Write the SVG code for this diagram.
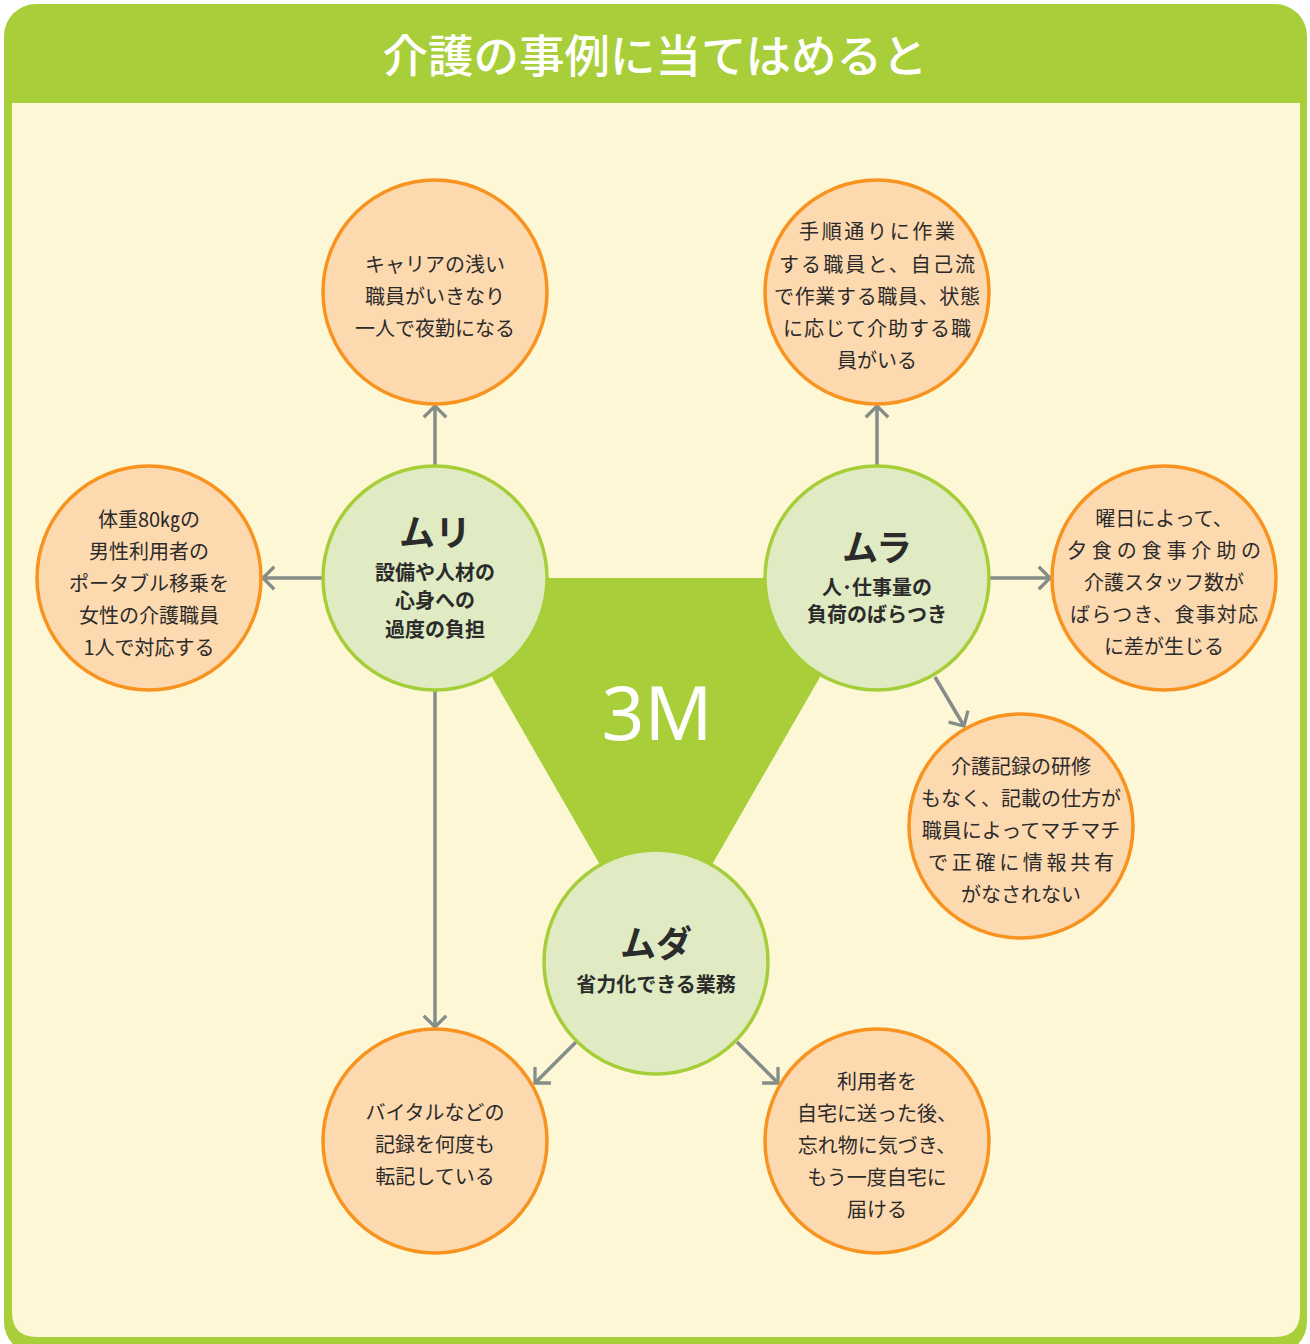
<svg xmlns="http://www.w3.org/2000/svg" width="1310" height="1344" viewBox="0 0 1310 1344">
<defs>
<style>
.t{font-family:"Noto Sans CJK JP","Noto Sans",sans-serif;font-size:20px;fill:#2b2b2b;text-anchor:middle;dominant-baseline:central}
.b{font-family:"Noto Sans CJK JP","Noto Sans",sans-serif;font-size:20px;font-weight:bold;fill:#2b2b2b;text-anchor:middle;dominant-baseline:central}
.h{font-family:"Noto Sans CJK JP","Noto Sans",sans-serif;font-size:36px;font-weight:bold;fill:#2b2b2b;text-anchor:middle;dominant-baseline:central}
.o{fill:#fdd9b0;stroke:#f7931e;stroke-width:3.5}
.g{fill:#e0ebc3;stroke:#a6ce39;stroke-width:3.5}
.c{stroke:#858d88;stroke-width:3.5;fill:none;marker-end:url(#ar)}
</style>
<marker id="ar" markerUnits="userSpaceOnUse" markerWidth="30" markerHeight="30" viewBox="-16 -16 32 32" refX="0" refY="0" orient="auto">
<path d="M-12,-12 L0,0 L-12,12" fill="none" stroke="#858d88" stroke-width="3.5"/>
</marker>
</defs>
<rect x="0" y="0" width="1310" height="1344" fill="#ffffff"/>
<rect x="4" y="4" width="1303" height="1350" rx="32" fill="#a8cf3a"/>
<path d="M12,103 H1300 V1312 Q1300,1337 1275,1337 H37 Q12,1337 12,1312 Z" fill="#fdf7d6"/>
<text x="655" y="53" font-family="'Noto Sans CJK JP','Noto Sans',sans-serif" font-size="45.5" font-weight="500" fill="#ffffff" text-anchor="middle" dominant-baseline="central">介護の事例に当てはめると</text>
<polygon points="435,578 877,578 656,962" fill="#a8cf3a"/>
<g id="connectors">
<line class="c" x1="435" y1="466" x2="435" y2="406"/>
<line class="c" x1="877" y1="466" x2="877" y2="406"/>
<line class="c" x1="322" y1="578" x2="263" y2="578"/>
<line class="c" x1="989" y1="578" x2="1050" y2="578"/>
<line class="c" x1="935" y1="677" x2="964" y2="726"/>
<line class="c" x1="435" y1="690" x2="435" y2="1027"/>
<line class="c" x1="576" y1="1042" x2="535" y2="1083"/>
<line class="c" x1="737" y1="1042" x2="778" y2="1083"/>
</g>
<g id="center3m"><text x="657" y="711" font-family="'Noto Sans','Liberation Sans',sans-serif" font-size="75" fill="#ffffff" text-anchor="middle" dominant-baseline="central">3M</text></g>
<g id="muri"><circle class="g" cx="435" cy="578" r="112"/>
<text class="h" x="435" y="530">ムリ</text>
<text class="b" x="435" y="571">設備や人材の</text>
<text class="b" x="435" y="599">心身への</text>
<text class="b" x="435" y="628">過度の負担</text></g>
<g id="mura"><circle class="g" cx="877" cy="578" r="112"/>
<text class="h" x="877" y="545">ムラ</text>
<text class="b" x="877" y="586">人･仕事量の</text>
<text class="b" x="877" y="613">負荷のばらつき</text></g>
<g id="muda"><circle class="g" cx="656" cy="962" r="112"/>
<text class="h" x="656" y="941">ムダ</text>
<text class="b" x="656" y="983">省力化できる業務</text></g>
<g id="n-topleft"><circle class="o" cx="435" cy="292" r="112"/>
<text class="t" x="435" y="263">キャリアの浅い</text>
<text class="t" x="435" y="295">職員がいきなり</text>
<text class="t" x="435" y="327">一人で夜勤になる</text></g>
<g id="n-topright"><circle class="o" cx="877" cy="292" r="112"/>
<text class="t" x="877" y="230" textLength="156">手順通りに作業</text>
<text class="t" x="877" y="263" textLength="196">する職員と、自己流</text>
<text class="t" x="877" y="295" textLength="206">で作業する職員、状態</text>
<text class="t" x="877" y="327" textLength="188">に応じて介助する職</text>
<text class="t" x="877" y="359">員がいる</text></g>
<g id="n-left"><circle class="o" cx="149" cy="578" r="112"/>
<text class="t" x="149" y="518">体重80㎏の</text>
<text class="t" x="149" y="550">男性利用者の</text>
<text class="t" x="149" y="582">ポータブル移乗を</text>
<text class="t" x="149" y="614">女性の介護職員</text>
<text class="t" x="149" y="646">1人で対応する</text></g>
<g id="n-right"><circle class="o" cx="1164" cy="578" r="112"/>
<text class="t" x="1164" y="517">曜日によって、</text>
<text class="t" x="1164" y="549" textLength="194">夕食の食事介助の</text>
<text class="t" x="1164" y="581">介護スタッフ数が</text>
<text class="t" x="1164" y="613" textLength="188">ばらつき、食事対応</text>
<text class="t" x="1164" y="645">に差が生じる</text></g>
<g id="n-lowerright"><circle class="o" cx="1021" cy="826" r="112"/>
<text class="t" x="1021" y="765">介護記録の研修</text>
<text class="t" x="1021" y="797">もなく、記載の仕方が</text>
<text class="t" x="1021" y="829">職員によってマチマチ</text>
<text class="t" x="1021" y="861" textLength="186">で正確に情報共有</text>
<text class="t" x="1021" y="893">がなされない</text></g>
<g id="n-bottomleft"><circle class="o" cx="435" cy="1141" r="112"/>
<text class="t" x="435" y="1111">バイタルなどの</text>
<text class="t" x="435" y="1143">記録を何度も</text>
<text class="t" x="435" y="1175">転記している</text></g>
<g id="n-bottomright"><circle class="o" cx="877" cy="1141" r="112"/>
<text class="t" x="877" y="1080">利用者を</text>
<text class="t" x="877" y="1112">自宅に送った後、</text>
<text class="t" x="877" y="1144">忘れ物に気づき、</text>
<text class="t" x="877" y="1176">もう一度自宅に</text>
<text class="t" x="877" y="1208">届ける</text></g>
</svg>
